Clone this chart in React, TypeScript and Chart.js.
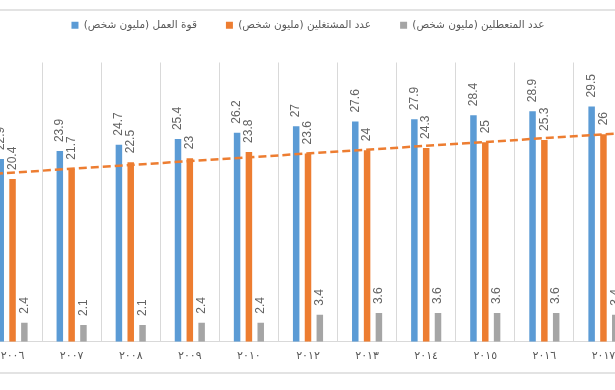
import { useEffect, useRef } from 'react';
import { Chart, registerables } from 'chart.js';

Chart.register(...registerables);

// ---- data ----
const categories = ['٢٠٠٦', '٢٠٠٧', '٢٠٠٨', '٢٠٠٩', '٢٠١٠', '٢٠١٢', '٢٠١٣', '٢٠١٤', '٢٠١٥', '٢٠١٦', '٢٠١٧'];
const laborForce = [22.9, 23.9, 24.7, 25.4, 26.2, 27, 27.6, 27.9, 28.4, 28.9, 29.5];
const employed = [20.4, 21.7, 22.5, 23, 23.8, 23.6, 24, 24.3, 25, 25.3, 26];
const unemployed = [2.4, 2.1, 2.1, 2.4, 2.4, 3.4, 3.6, 3.6, 3.6, 3.6, 3.4];
const seriesLabels = ['قوة العمل (مليون شخص)', 'عدد المشتغلين (مليون شخص)', 'عدد المتعطلين (مليون شخص)'];
const seriesColors = ['#5B9BD5', '#ED7D31', '#A5A5A5'];
const yMin = 0;
const yMax = 35;

const RLM = '\u200F';

const legendSpacer = {
  id: 'legendSpacer',
  afterInit(chart: any) {
    const legend = chart.legend;
    if (!legend) return;
    const orig = legend.fit;
    legend.fit = function () {
      orig.call(this);
      this.height += 22;
    };
  },
};

const trendLine = {
  id: 'trendLine',
  afterDatasetsDraw(chart: any) {
    const n = employed.length;
    let sx = 0, sy = 0;
    employed.forEach((v, i) => { sx += i; sy += v; });
    const mx = sx / n, my = sy / n;
    let sxy = 0, sxx = 0;
    employed.forEach((v, i) => { sxy += (i - mx) * (v - my); sxx += (i - mx) * (i - mx); });
    const slope = sxy / sxx;
    const icpt = my - slope * mx;
    const xs = chart.scales.x, ys = chart.scales.y;
    const a = -0.5, b = n - 0.5;
    const ctx = chart.ctx;
    ctx.save();
    ctx.strokeStyle = seriesColors[1];
    ctx.lineWidth = 2.5;
    ctx.setLineDash([8, 4]);
    ctx.beginPath();
    ctx.moveTo(xs.getPixelForValue(a), ys.getPixelForValue(icpt + slope * a));
    ctx.lineTo(xs.getPixelForValue(b), ys.getPixelForValue(icpt + slope * b));
    ctx.stroke();
    ctx.restore();
  },
};

const barLabels = {
  id: 'barLabels',
  afterDatasetsDraw(chart: any) {
    const ctx = chart.ctx;
    ctx.save();
    ctx.font = '12px "Liberation Sans"';
    ctx.fillStyle = '#646464';
    ctx.textAlign = 'left';
    ctx.textBaseline = 'middle';
    chart.data.datasets.forEach((ds: any, di: number) => {
      const meta = chart.getDatasetMeta(di);
      meta.data.forEach((bar: any, i: number) => {
        ctx.save();
        ctx.translate(bar.x, bar.y - 9);
        ctx.rotate(-Math.PI / 2);
        ctx.fillText(String(ds.data[i]), 0, 0);
        ctx.restore();
      });
    });
    ctx.restore();
  },
};

export default function App() {
  const canvasRef = useRef<HTMLCanvasElement | null>(null);

  useEffect(() => {
    const canvas = canvasRef.current;
    if (!canvas) return;
    const seriesData = [laborForce, employed, unemployed];
    const chart = new Chart(canvas, {
      type: 'bar',
      data: {
        labels: categories,
        datasets: seriesData.map((d, i) => ({
          label: seriesLabels[i] + RLM,
          data: d,
          backgroundColor: seriesColors[i],
          borderWidth: 0,
          barPercentage: 0.55,
          categoryPercentage: 0.6,
        })),
      },
      options: {
        responsive: false,
        animation: false,
        devicePixelRatio: 1,
        layout: { padding: { top: 0, bottom: 21, left: 0, right: 0 } },
        plugins: {
          legend: {
            display: true,
            position: 'top',
            labels: {
              boxWidth: 7,
              boxHeight: 7,
              padding: 29,
              color: '#595959',
              font: { family: '"DejaVu Sans"', size: 10.5 },
            },
          },
          tooltip: { enabled: false },
        },
        scales: {
          x: {
            offset: true,
            grid: { display: true, offset: true, color: '#D9D9D9', drawTicks: false },
            border: { display: true, color: '#D9D9D9' },
            ticks: {
              color: '#595959',
              font: { family: '"DejaVu Sans"', size: 11 },
              padding: 8,
              maxRotation: 0,
              autoSkip: false,
            },
          },
          y: { display: false, min: yMin, max: yMax },
        },
      },
      plugins: [legendSpacer, trendLine, barLabels],
    } as any);
    return () => chart.destroy();
  }, []);

  return (
    <div
      style={{
        position: 'fixed',
        left: 0,
        top: 0,
        width: 615,
        height: 390,
        overflow: 'hidden',
        background: '#ffffff',
      }}
    >
      <div style={{ position: 'absolute', left: 0, right: 0, top: 9, height: 2, background: '#E3E3E3' }} />
      <canvas
        ref={canvasRef}
        width={650}
        height={401}
        style={{ position: 'absolute', left: -17, top: -9, width: 650, height: 401 }}
      />
      <div style={{ position: 'absolute', left: 0, right: 0, top: 372, height: 2, background: '#E3E3E3' }} />
    </div>
  );
}
